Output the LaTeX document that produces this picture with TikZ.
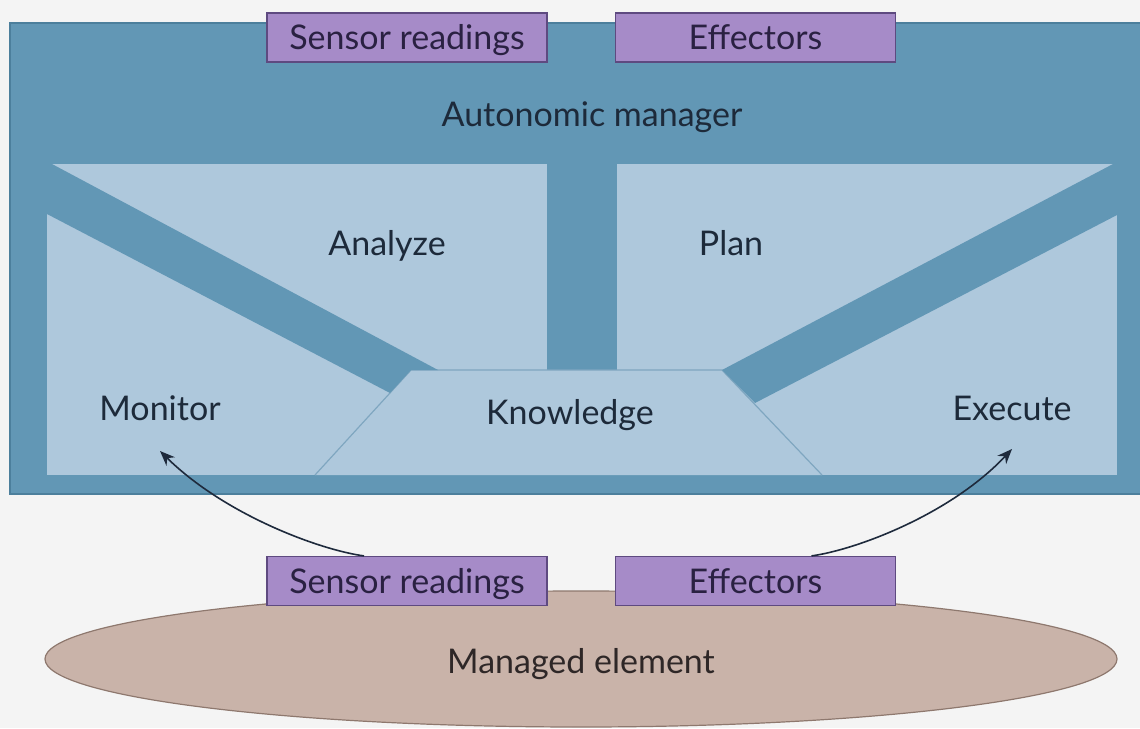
\documentclass[tikz,border=0pt]{standalone}
\usepackage{fontspec}
\setmainfont{Lato}
\usetikzlibrary{arrows.meta}

\definecolor{bgpaper}{HTML}{F4F4F4}
\definecolor{mgrblue}{HTML}{6297B5}
\definecolor{mgrline}{HTML}{4C7F9C}
\definecolor{panelblue}{HTML}{AEC8DC}
\definecolor{trapline}{HTML}{7FA6C0}
\definecolor{boxfill}{HTML}{A68BC8}
\definecolor{boxline}{HTML}{5E4A80}
\definecolor{boxtext}{HTML}{2A2142}
\definecolor{labeltext}{HTML}{1D2A3A}
\definecolor{elemfill}{HTML}{C9B3A9}
\definecolor{elemline}{HTML}{8E786E}
\definecolor{elemtext}{HTML}{2E2727}
\definecolor{arrowcol}{HTML}{1E2A3C}

\begin{document}
\begin{tikzpicture}[x=1pt,y=-1pt,
  purplebox/.style={draw=boxline,fill=boxfill,line width=1.2pt,minimum width=280pt,
    minimum height=49pt,inner sep=0pt,text height=24pt,text depth=0pt,text=boxtext,
    font=\fontsize{34}{36}\selectfont},
  paneltext/.style={anchor=base,inner sep=0pt,text=labeltext,font=\fontsize{34}{36}\selectfont},
  feedback/.style={draw=arrowcol,line width=1.6pt,-{Stealth[length=15pt,width=12pt]}}]
%Koordinaten wie im Bild in Pixeln, y zeigt nach unten
  \pgfmathsetmacro{\innenL}{47}
  \pgfmathsetmacro{\innenR}{1117}
  \pgfmathsetmacro{\innenO}{164}
  \pgfmathsetmacro{\innenU}{475}
  \pgfmathsetmacro{\wissenO}{370}
\useasboundingbox (0,0) rectangle (1140,728);
\fill[bgpaper] (0,0) rectangle (1140,728);
%Autonomic manager mit den vier Feldern
\draw[mgrline,fill=mgrblue,line width=1.2pt] (10,23) rectangle (1141,494);
\fill[panelblue] (\innenL,\innenO) rectangle (\innenR,\innenU);
\fill[mgrblue] (547,\innenO) rectangle (617,\wissenO);
\draw[trapline,fill=panelblue,line width=1.2pt] (315,\innenU) -- (411,\wissenO) -- (722,\wissenO) -- (822,\innenU);
\fill[mgrblue] (\innenL,\innenO) -- (52,\innenO) -- (438,\wissenO) -- (411,\wissenO) -- (390,393) -- (\innenL,214) -- cycle;
\fill[mgrblue] (\innenR,\innenO) -- (1113,\innenO) -- (722,\wissenO) -- (755,403) -- (\innenR,215) -- cycle;
%Managed element
\draw[elemline,fill=elemfill,line width=1.2pt] (581,659) ellipse [x radius=536, y radius=68];
\foreach \name/\txt/\xc/\yc in {sensortop/Sensor readings/407/37.5, effectortop/Effectors/755.5/37.5,
  sensorlow/Sensor readings/407/581, effectorlow/Effectors/755.5/581}
  \node[purplebox] (\name) at (\xc,\yc) {\txt};
\node[paneltext] (manager) at (592,126) {Autonomic manager};
\node[paneltext] (analyze) at (387,255) {Analyze};
\node[paneltext] (plan) at (731,255) {Plan};
\node[paneltext] (monitor) at (160,420) {Monitor};
\node[paneltext] (knowledge) at (570,424) {Knowledge};
\node[paneltext] (execute) at (1012,420) {Execute};
\node[paneltext,text=elemtext] (elementlabel) at (581,673) {Managed element};
\coordinate (montip) at (160,451);
\coordinate (exetip) at (1012,449);
\draw[feedback] ([xshift=-43pt]sensorlow.north) .. controls (320,550) and (225,515) .. (montip);
\draw[feedback] ([xshift=56pt]effectorlow.north) .. controls (855,550) and (950,515) .. (exetip);
\end{tikzpicture}
\end{document}
